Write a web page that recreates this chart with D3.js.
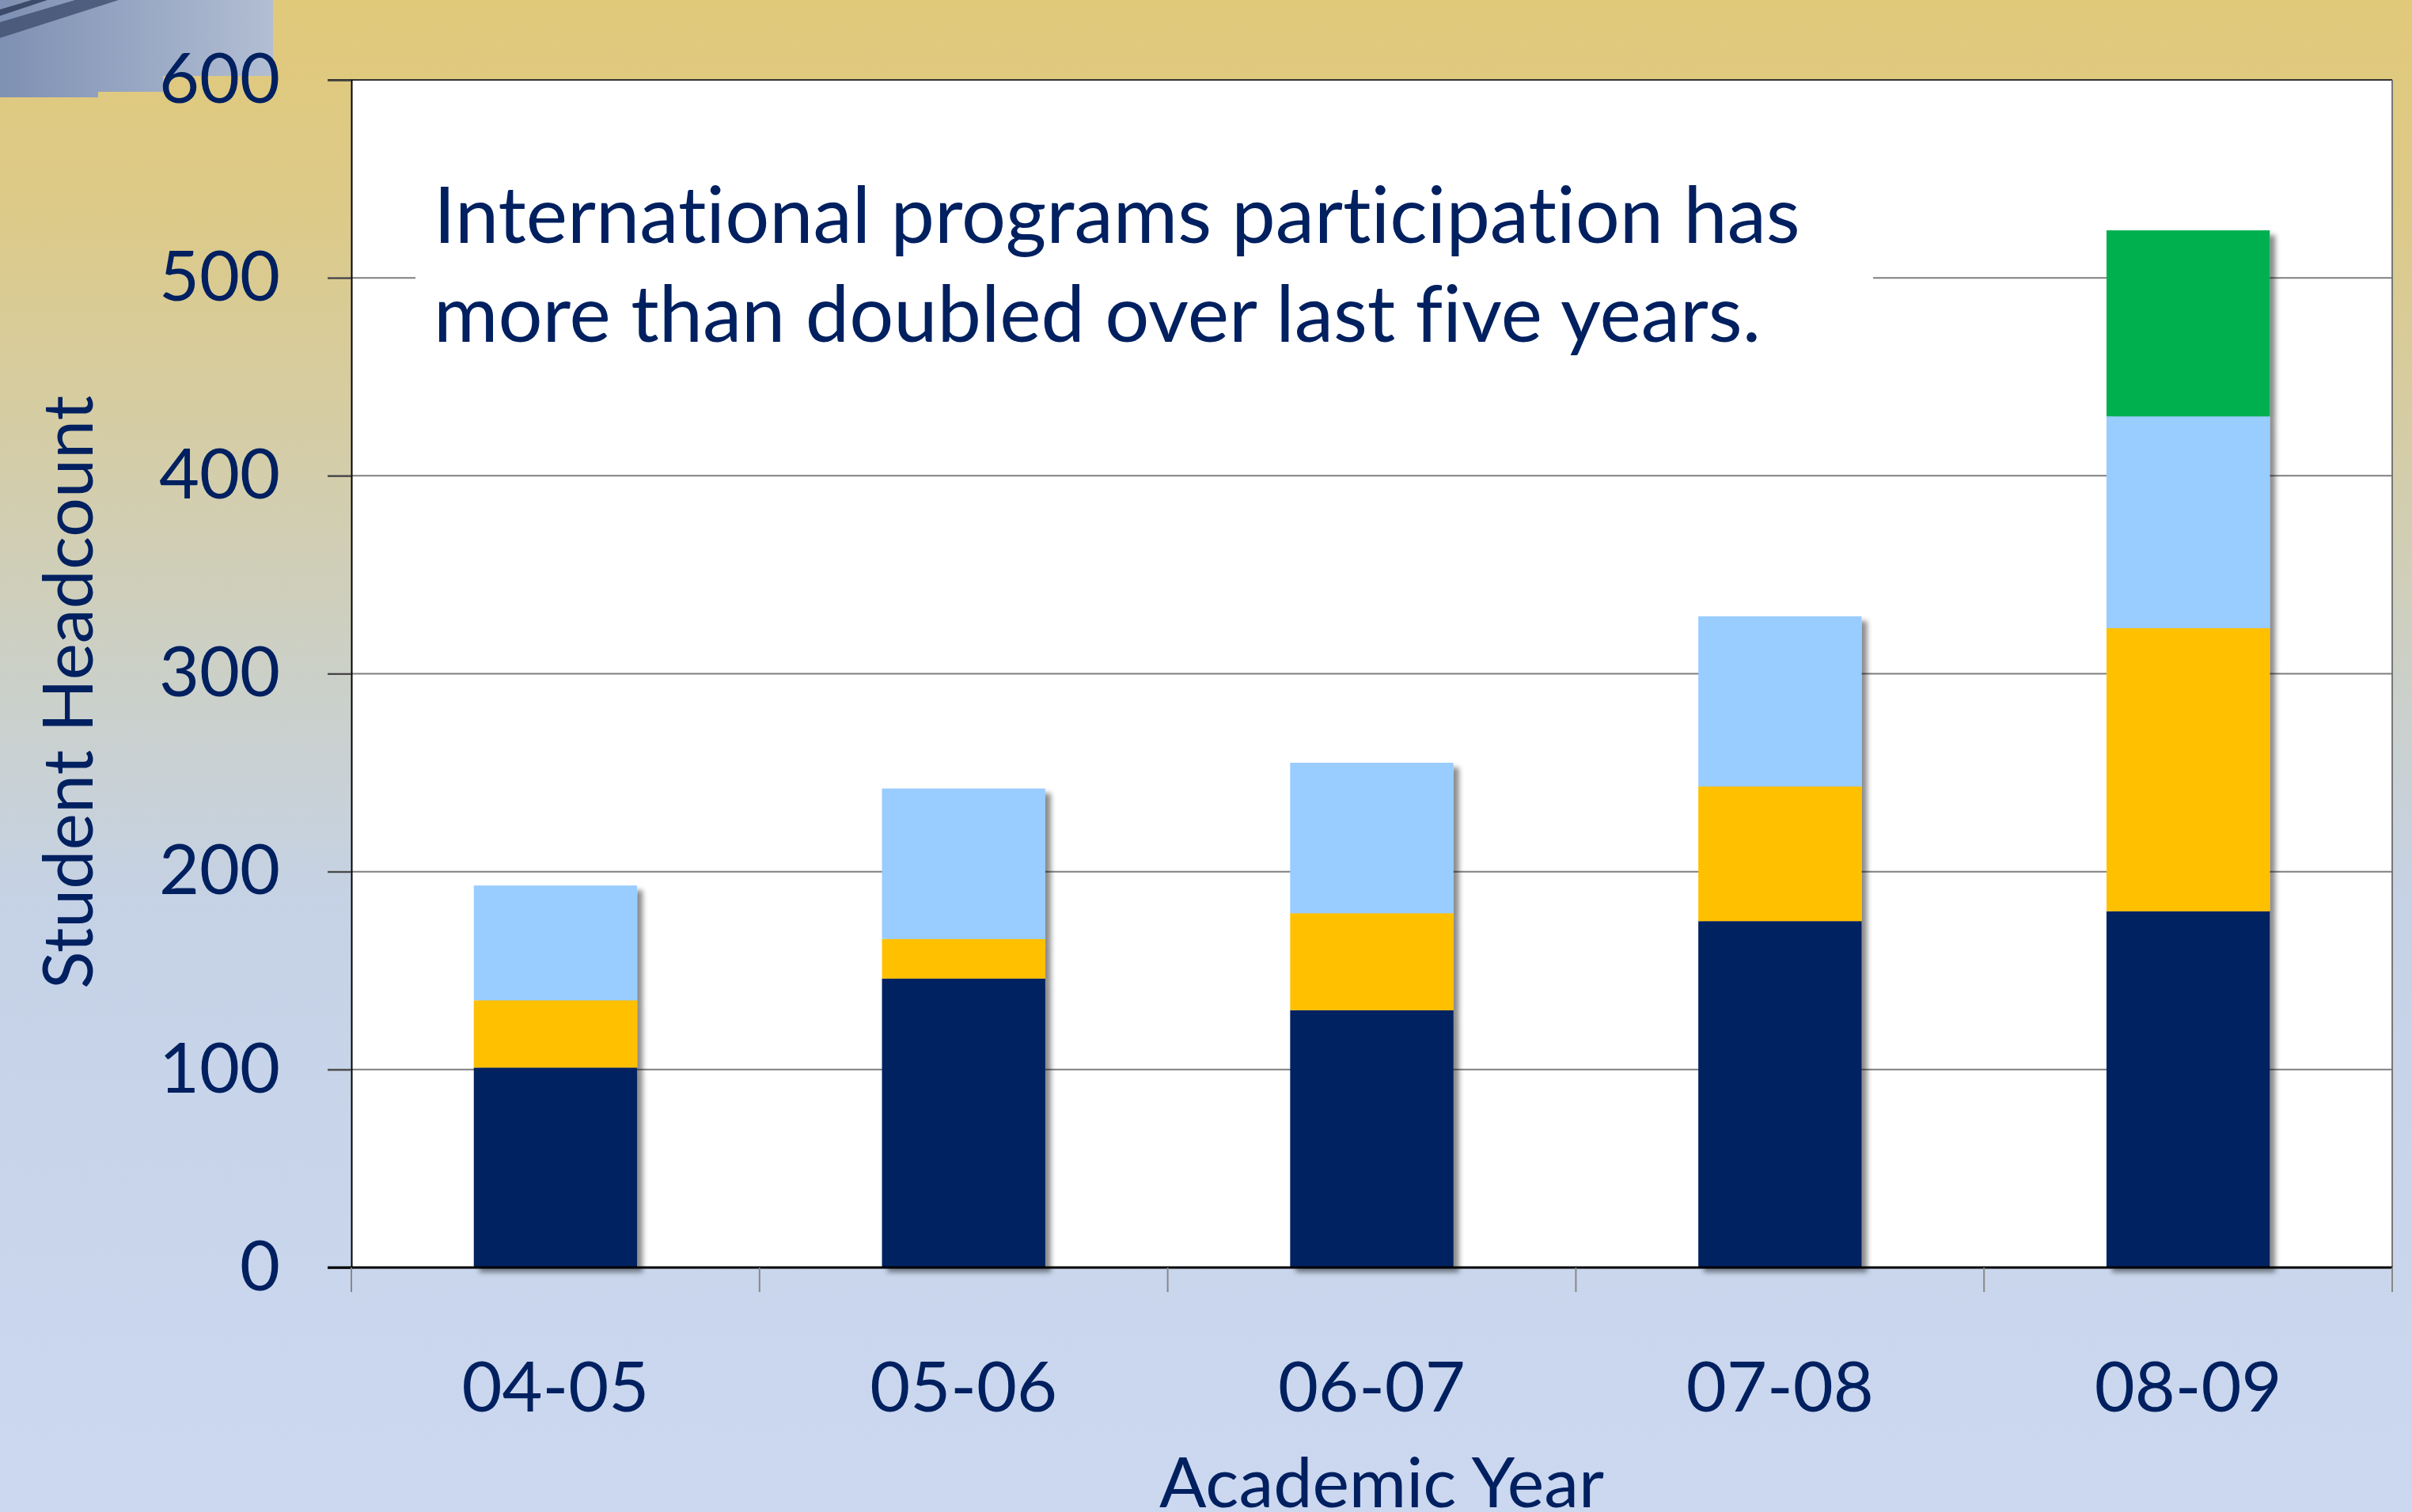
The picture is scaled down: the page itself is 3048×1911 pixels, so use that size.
<!DOCTYPE html>
<html>
<head>
<meta charset="utf-8">
<script src="https://cdn.jsdelivr.net/npm/d3@7"></script>
<style>
  body { margin: 0; padding: 0; overflow: hidden; }
  svg { display: block; }
  text { font-variant-ligatures: none; font-feature-settings: "liga" 0, "clig" 0; }
</style>
</head>
<body>
<svg id="chart" width="3048" height="1911"></svg>
<script>
"use strict";
// chart data
const categories = ['04-05', '05-06', '06-07', '07-08', '08-09'];
const seriesKeys = ['base', 'second', 'third', 'fourth'];
const baseValues = [101, 146, 130, 175, 180];
const secondValues = [34, 20, 49, 68, 143];
const thirdValues = [58, 76, 76, 86, 107];
const fourthValues = [0, 0, 0, 0, 94];
const yTicks = [0, 100, 200, 300, 400, 500, 600];
const yTitle = 'Student Headcount';
const xTitle = 'Academic Year';
const noteLines = ['International programs participation has', 'more than doubled over last five years.'];

const colors = ['#002060', '#FFC000', '#99CCFF', '#00B050'];
const textColor = '#002060';
const font = 'Lato, "Open Sans", sans-serif';

function drawChart() {
    const svg = d3.select('#chart');
    const width = +svg.attr('width');
    const height = +svg.attr('height');
    const left = 444, right = 3023, top = 101, bottom = 1602;

    const defs = svg.append('defs');
    const bg = defs.append('linearGradient').attr('id', 'bg')
        .attr('x1', 0).attr('y1', 0).attr('x2', 0).attr('y2', 1);
    [[0, '#E1C97A'], [0.15, '#DCCA8A'], [0.3, '#D4CDA8'], [0.45, '#CBD0C8'], [0.6, '#C5D2E6'], [1, '#CBD8F0']]
        .forEach(s => bg.append('stop').attr('offset', s[0]).attr('stop-color', s[1]));
    const pic = defs.append('linearGradient').attr('id', 'pic')
        .attr('x1', 0).attr('y1', 0).attr('x2', 1).attr('y2', 0);
    pic.append('stop').attr('offset', 0).attr('stop-color', '#7E90B3');
    pic.append('stop').attr('offset', 1).attr('stop-color', '#B2BED3');
    const shadow = defs.append('filter').attr('id', 'shadow')
        .attr('x', '-10%').attr('y', '-10%').attr('width', '130%').attr('height', '130%');
    shadow.append('feDropShadow').attr('dx', 7).attr('dy', 6).attr('stdDeviation', 3)
        .attr('flood-color', '#000').attr('flood-opacity', 0.45);

    svg.append('rect').attr('width', width).attr('height', height).attr('fill', 'url(#bg)');

    // corner picture fragment
    svg.append('path')
        .attr('d', 'M0,0 H345 V96 H206 V116 H124 V123 H0 Z')
        .attr('fill', 'url(#pic)');
    svg.append('path').attr('d', 'M0,28 L95,0 H150 L0,48 Z').attr('fill', '#3E4E6E').attr('opacity', 0.8);
    svg.append('path').attr('d', 'M0,12 L40,0 H60 L0,20 Z').attr('fill', '#2A3856').attr('opacity', 0.8);

    const x = d3.scaleBand().domain(categories).range([left, right])
        .paddingInner(0.6).paddingOuter(0.3);
    const y = d3.scaleLinear().domain([0, 600]).range([bottom, top]);

    svg.append('rect').attr('x', left).attr('y', top)
        .attr('width', right - left).attr('height', bottom - top).attr('fill', '#fff');

    // gridlines
    svg.append('g').selectAll('line').data(yTicks.filter(d => d > 0 && d < 600)).enter()
        .append('line')
        .attr('x1', left - 30).attr('x2', right)
        .attr('y1', d => y(d)).attr('y2', d => y(d))
        .attr('stroke', '#7F7F7F').attr('stroke-width', 2);

    // note box covers the 500 gridline
    svg.append('rect').attr('x', 525).attr('y', 225).attr('width', 1842).attr('height', 240).attr('fill', '#fff');
    svg.append('text')
        .attr('x', 548).attr('y', 307)
        .attr('fill', textColor).attr('font-family', font).attr('font-size', 99)
        .selectAll('tspan').data(noteLines).enter().append('tspan')
        .attr('x', 548).attr('dy', (d, i) => i === 0 ? 0 : 125)
        .text(d => d);

    // stacked bars
    const rows = categories.map((c, i) => ({
        cat: c, base: baseValues[i], second: secondValues[i], third: thirdValues[i], fourth: fourthValues[i]
    }));
    const stack = d3.stack().keys(seriesKeys)(rows);
    const bars = svg.append('g').attr('filter', 'url(#shadow)');
    bars.selectAll('g').data(stack).enter().append('g')
        .attr('fill', (d, i) => colors[i])
        .selectAll('rect').data(d => d.filter(p => p[1] > p[0])).enter().append('rect')
        .attr('x', d => x(d.data.cat))
        .attr('y', d => y(d[1]))
        .attr('width', x.bandwidth())
        .attr('height', d => y(d[0]) - y(d[1]));

    // frame lines
    svg.append('line').attr('x1', left - 30).attr('x2', right).attr('y1', top).attr('y2', top)
        .attr('stroke', '#333').attr('stroke-width', 2);
    svg.append('line').attr('x1', right).attr('x2', right).attr('y1', top).attr('y2', bottom)
        .attr('stroke', '#777').attr('stroke-width', 2);

    // y axis
    const yAxis = svg.append('g').attr('transform', `translate(${left},0)`)
        .call(d3.axisLeft(y).tickValues(yTicks).tickSize(30).tickPadding(60));
    yAxis.select('.domain').attr('stroke', '#000').attr('stroke-width', 2);
    yAxis.selectAll('.tick line').attr('stroke', '#444').attr('stroke-width', 2);
    yAxis.selectAll('.tick text')
        .attr('fill', textColor).attr('font-family', font).attr('font-size', 88)
        .attr('dy', '0.32em');

    // x axis
    svg.append('line').attr('x1', left - 30).attr('x2', right).attr('y1', bottom).attr('y2', bottom)
        .attr('stroke', '#000').attr('stroke-width', 3);
    const bounds = categories.map(c => x(c) - x.step() * x.paddingInner() / 2);
    bounds[0] = left;
    bounds.push(right);
    svg.append('g').selectAll('line').data(bounds).enter().append('line')
        .attr('x1', d => d).attr('x2', d => d)
        .attr('y1', bottom).attr('y2', bottom + 31)
        .attr('stroke', '#888').attr('stroke-width', 2);
    svg.append('g').selectAll('text').data(categories).enter().append('text')
        .attr('x', d => x(d) + x.bandwidth() / 2)
        .attr('y', 1784)
        .attr('text-anchor', 'middle')
        .attr('fill', textColor).attr('font-family', font).attr('font-size', 88)
        .text(d => d);

    // axis titles
    svg.append('text')
        .attr('transform', 'translate(117,875) rotate(-90)')
        .attr('text-anchor', 'middle')
        .attr('fill', textColor).attr('font-family', font).attr('font-size', 88)
        .text(yTitle);
    svg.append('text')
        .attr('x', 1746).attr('y', 1905)
        .attr('text-anchor', 'middle')
        .attr('fill', textColor).attr('font-family', font).attr('font-size', 88)
        .text(xTitle);
}

drawChart();
</script>
</body>
</html>
